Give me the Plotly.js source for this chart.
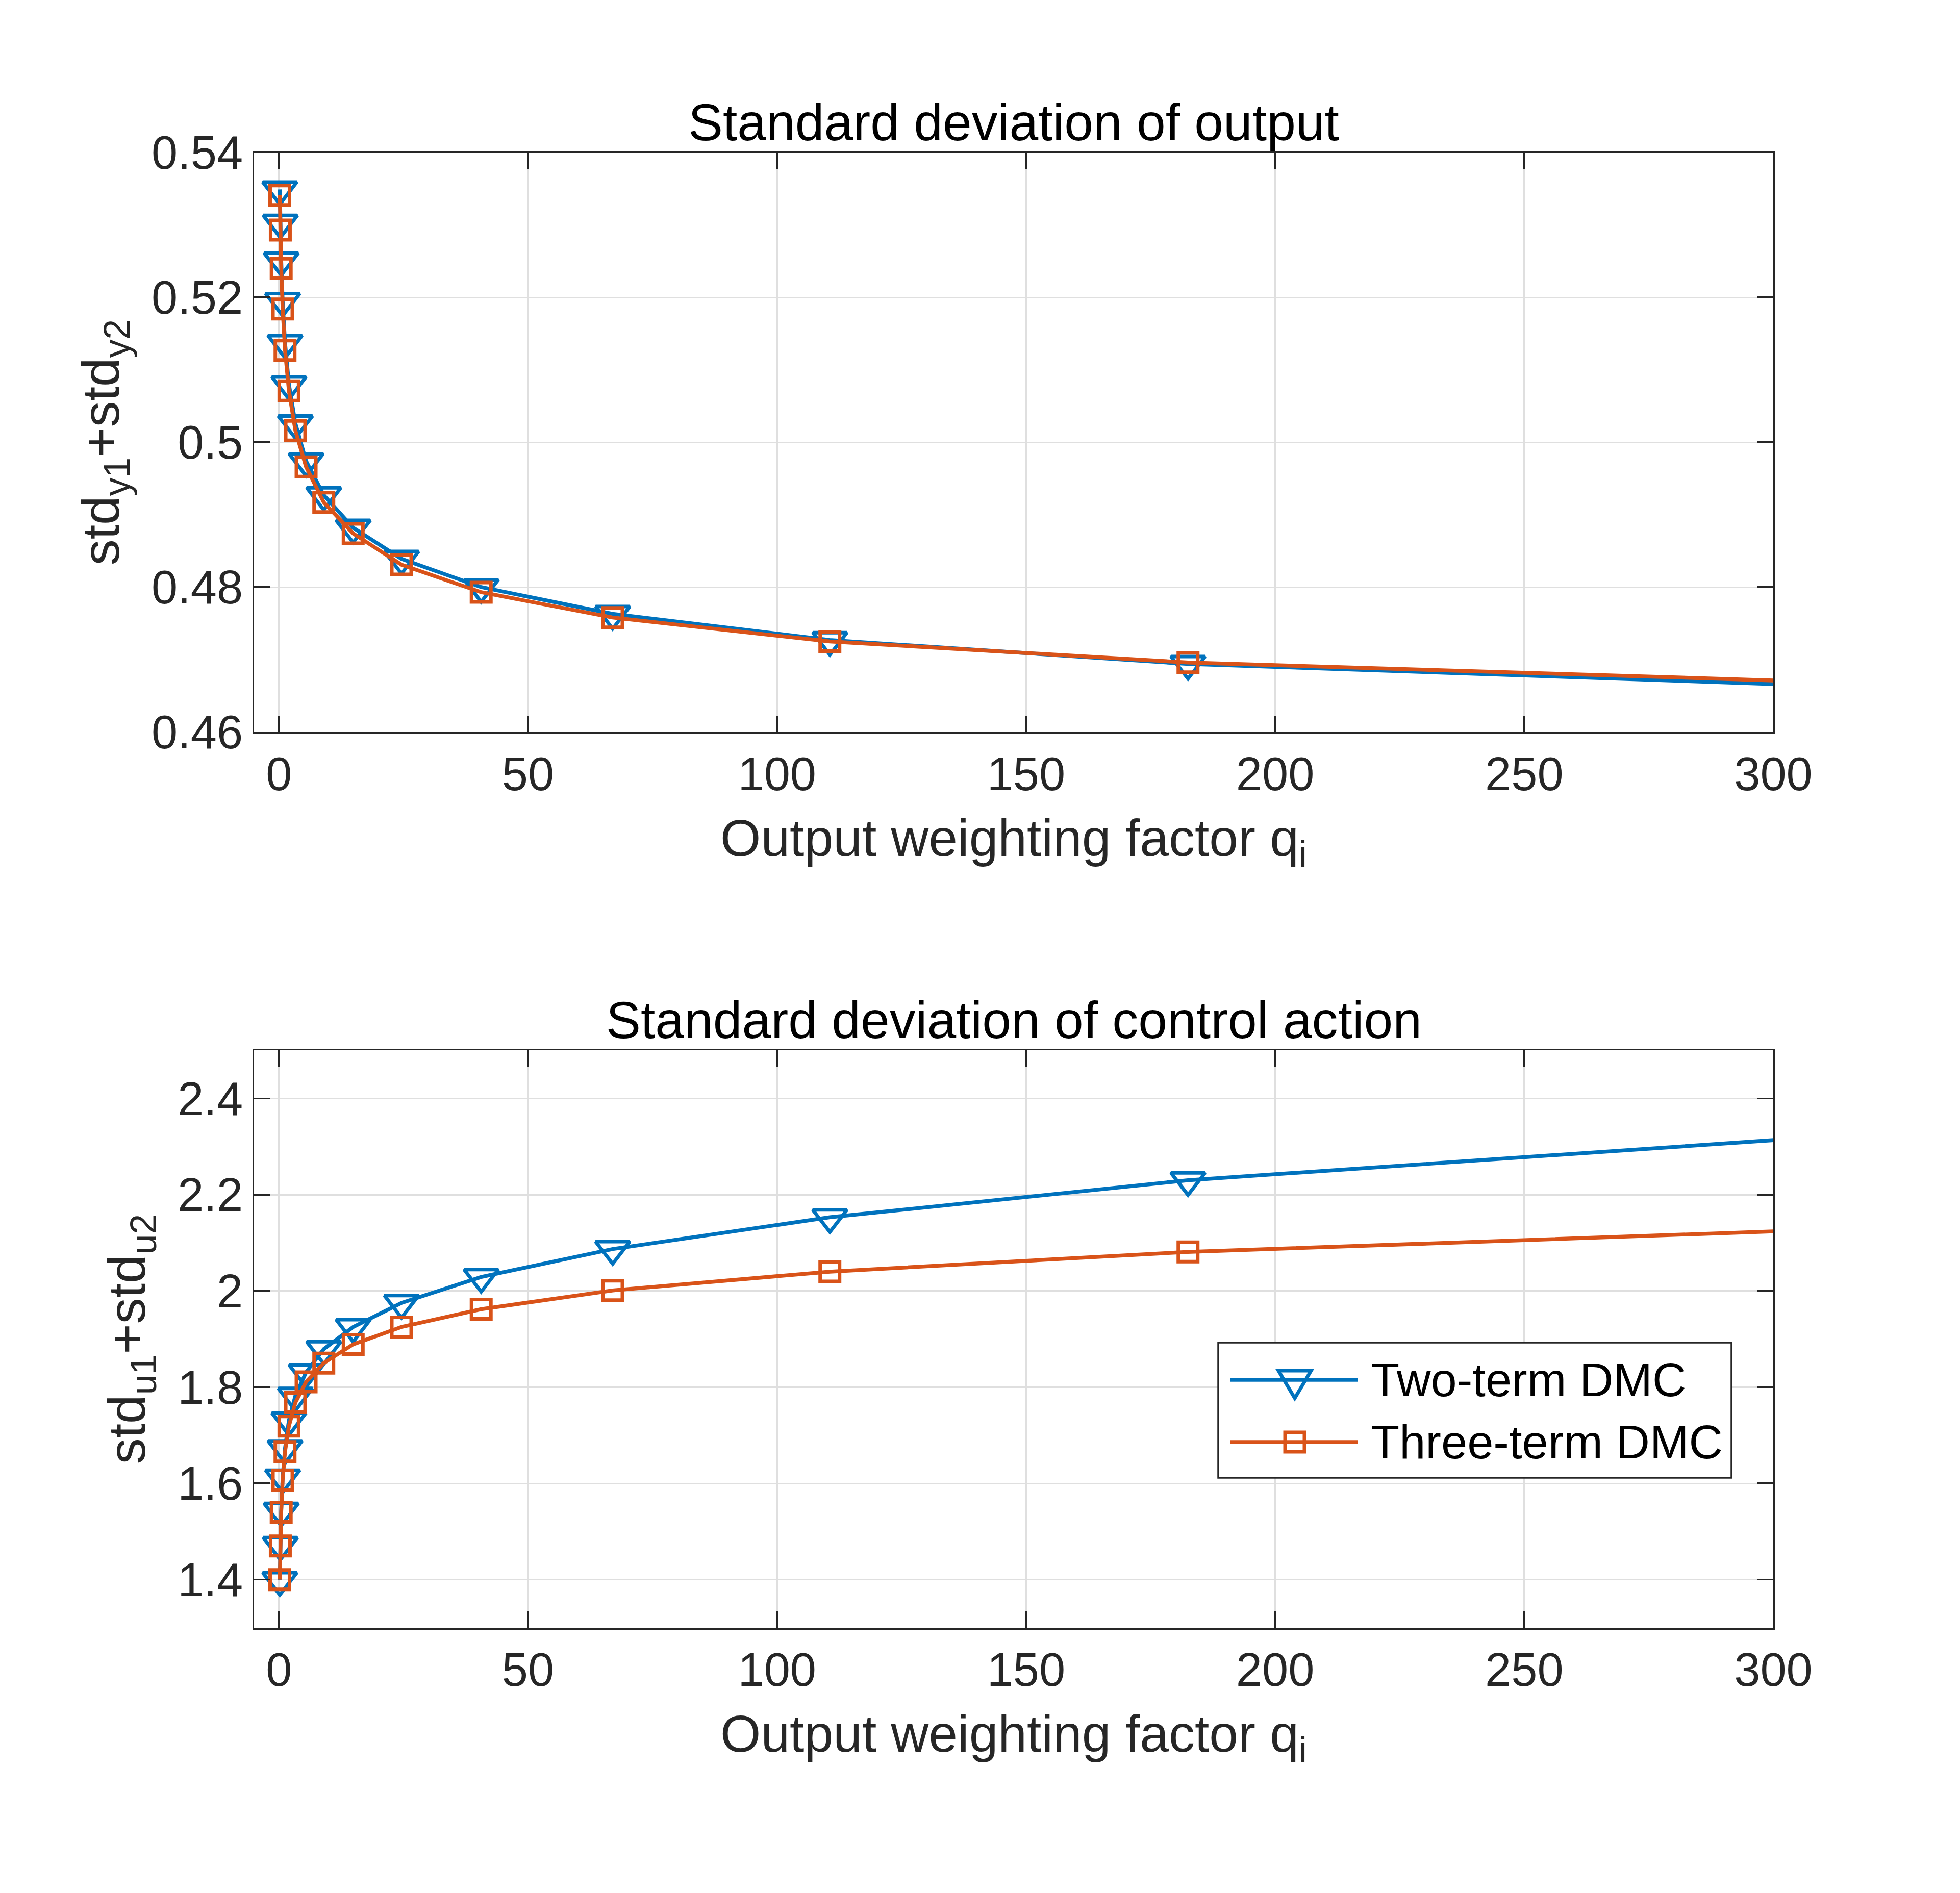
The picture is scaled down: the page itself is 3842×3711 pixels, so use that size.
<!DOCTYPE html>
<html>
<head>
<meta charset="utf-8">
<script src="https://cdn.plot.ly/plotly-3.0.1.min.js"></script>
<style>
html, body { margin: 0; padding: 0; background: #fff; }
#chart { width: 3842px; height: 3711px; }
</style>
</head>
<body>
<div id="chart"></div>
<script>
// output weighting factor q_i, shared by both subplots
var q = [0.17, 0.27, 0.45, 0.74, 1.22, 2.0, 3.3, 5.45, 9.0, 14.9, 24.6, 40.6, 67.0, 110.6, 182.5, 301];

// std_y1 + std_y2
var twoTermStdY = [0.5349, 0.5303, 0.5251, 0.5195, 0.5137, 0.5080, 0.5026, 0.4974, 0.4927, 0.4882, 0.4839, 0.4800, 0.4763, 0.4727, 0.4694, 0.4666];
var threeTermStdY = [0.5341, 0.5293, 0.5240, 0.5184, 0.5127, 0.5071, 0.5016, 0.4966, 0.4917, 0.4874, 0.4831, 0.4793, 0.4758, 0.4725, 0.4696, 0.4671];

// std_u1 + std_u2
var twoTermStdU = [1.399, 1.472, 1.543, 1.612, 1.673, 1.731, 1.782, 1.831, 1.879, 1.925, 1.975, 2.029, 2.087, 2.153, 2.230, 2.314];
var threeTermStdU = [1.400, 1.470, 1.540, 1.607, 1.666, 1.719, 1.768, 1.811, 1.850, 1.889, 1.925, 1.962, 2.001, 2.040, 2.081, 2.124];

var seriesNames = ["Two-term DMC", "Three-term DMC"];
var titles = ["Standard deviation of output", "Standard deviation of control action"];
var xTitle = "Output weighting factor q<sub>i</sub>";
var yTitles = ["std<sub>y1</sub>+std<sub>y2</sub>", "std<sub>u1</sub>+std<sub>u2</sub>"];

var xTicks = [0, 50, 100, 150, 200, 250, 300];
var xTickLabels = ["0", "50", "100", "150", "200", "250", "300"];
var yTopTicks = [0.46, 0.48, 0.5, 0.52, 0.54];
var yTopTickLabels = ["0.46", "0.48", "0.5", "0.52", "0.54"];
var yBotTicks = [1.4, 1.6, 1.8, 2, 2.2, 2.4];
var yBotTickLabels = ["1.4", "1.6", "1.8", "2", "2.2", "2.4"];

var xRange = [-5, 300];
var yTopRange = [0.46, 0.54];
var yBotRange = [1.3, 2.5];

var BLUE = "#0072BD";
var ORANGE = "#D95319";
var AXIS = "#262626";
var FONT = "Liberation Sans, Arial, Helvetica, sans-serif";

// page size and margins in px
var W = 3842, H = 3711;
var M = {l: 498, r: 366, t: 299, b: 520};
function px(x) { return (x - M.l) / (W - M.l - M.r); }
function py(y) { return (H - M.b - y) / (H - M.t - M.b); }

// the last point lies just past x = 300, its marker is clipped in the original
var markerOpacity = q.map(function(v){ return v > xRange[1] ? 0 : 1; });

function series(x, y, name, color, symbol, size, xa, ya){
	return {
		x: x,
		y: y,
		name: name,
		type: "scatter",
		mode: "lines+markers",
		xaxis: xa,
		yaxis: ya,
		showlegend: false,
		line: {color: color, width: 7.5},
		marker: {
			symbol: symbol,
			size: size,
			color: color,
			opacity: markerOpacity,
			line: {color: color, width: 7}
		}
	};
}

var data = [
	series(q, twoTermStdY, seriesNames[0], BLUE, "triangle-down-open", 58, "x", "y"),
	series(q, threeTermStdY, seriesNames[1], ORANGE, "square-open", 38, "x", "y"),
	series(q, twoTermStdU, seriesNames[0], BLUE, "triangle-down-open", 58, "x2", "y2"),
	series(q, threeTermStdU, seriesNames[1], ORANGE, "square-open", 38, "x2", "y2")
];

function xAxis(anchor){
	return {
		anchor: anchor,
		domain: [0, 1],
		range: xRange,
		tickvals: xTicks,
		ticktext: xTickLabels,
		ticks: "inside",
		ticklen: 32,
		tickwidth: 3.5,
		tickcolor: AXIS,
		showline: true,
		linecolor: AXIS,
		linewidth: 3.5,
		mirror: "ticks",
		showgrid: true,
		gridcolor: "#dfdfdf",
		gridwidth: 3,
		zeroline: false,
		tickfont: {family: FONT, size: 92, color: AXIS},
		title: {text: xTitle, font: {family: FONT, size: 102, color: AXIS}, standoff: 40}
	};
}

function yAxis(anchor, domain, range, vals, labels, title){
	return {
		anchor: anchor,
		domain: domain,
		range: range,
		tickvals: vals,
		ticktext: labels,
		ticks: "inside",
		ticklen: 32,
		tickwidth: 3.5,
		tickcolor: AXIS,
		showline: true,
		linecolor: AXIS,
		linewidth: 3.5,
		mirror: "ticks",
		showgrid: true,
		gridcolor: "#dfdfdf",
		gridwidth: 3,
		zeroline: false,
		tickfont: {family: FONT, size: 92, color: AXIS},
		title: {text: title, font: {family: FONT, size: 102, color: AXIS}, standoff: 30}
	};
}

// legend box drawn by hand, plotly caps legend marker sizes
var legX0 = 2388, legX1 = 3394, legY0 = 2632, legY1 = 2897;
var rowY = [2705, 2827];
var sampleX0 = 2412, sampleX1 = 2661, sampleXc = 2538;
var textX = 2685;

var shapes = [
	{type: "rect", xref: "paper", yref: "paper", x0: px(legX0), x1: px(legX1), y0: py(legY1), y1: py(legY0),
		fillcolor: "#ffffff", line: {color: AXIS, width: 3.5}, layer: "above"},
	{type: "line", xref: "paper", yref: "paper", x0: px(sampleX0), x1: px(sampleX1), y0: py(rowY[0]), y1: py(rowY[0]),
		line: {color: BLUE, width: 7.5}, layer: "above"},
	{type: "line", xref: "paper", yref: "paper", x0: px(sampleX0), x1: px(sampleX1), y0: py(rowY[1]), y1: py(rowY[1]),
		line: {color: ORANGE, width: 7.5}, layer: "above"},
	{type: "path", xref: "paper", yref: "paper", layer: "above", line: {color: BLUE, width: 7},
		path: "M" + px(sampleXc - 32) + "," + py(rowY[0] - 18) + " L" + px(sampleXc + 32) + "," + py(rowY[0] - 18) +
			" L" + px(sampleXc) + "," + py(rowY[0] + 36) + " Z"},
	{type: "path", xref: "paper", yref: "paper", layer: "above", line: {color: ORANGE, width: 7},
		path: "M" + px(sampleXc - 19) + "," + py(rowY[1] - 19) + " L" + px(sampleXc + 19) + "," + py(rowY[1] - 19) +
			" L" + px(sampleXc + 19) + "," + py(rowY[1] + 19) + " L" + px(sampleXc - 19) + "," + py(rowY[1] + 19) + " Z"}
];

var annotations = [
	{text: titles[0], xref: "paper", yref: "paper", x: 0.5, y: py(299), xanchor: "center", yanchor: "bottom",
		showarrow: false, font: {family: FONT, size: 102, color: "#000000"}},
	{text: titles[1], xref: "paper", yref: "paper", x: 0.5, y: py(2059), xanchor: "center", yanchor: "bottom",
		showarrow: false, font: {family: FONT, size: 102, color: "#000000"}},
	{text: seriesNames[0], xref: "paper", yref: "paper", x: px(textX), y: py(rowY[0]), xanchor: "left", yanchor: "middle",
		showarrow: false, font: {family: FONT, size: 92, color: "#000000"}},
	{text: seriesNames[1], xref: "paper", yref: "paper", x: px(textX), y: py(rowY[1]), xanchor: "left", yanchor: "middle",
		showarrow: false, font: {family: FONT, size: 92, color: "#000000"}}
];

var layout = {
	width: W,
	height: H,
	margin: M,
	paper_bgcolor: "#ffffff",
	plot_bgcolor: "#ffffff",
	showlegend: false,
	xaxis: xAxis("y"),
	yaxis: yAxis("x", [py(1435), py(299)], yTopRange, yTopTicks, yTopTickLabels, yTitles[0]),
	xaxis2: xAxis("y2"),
	yaxis2: yAxis("x2", [py(3191), py(2059)], yBotRange, yBotTicks, yBotTickLabels, yTitles[1]),
	shapes: shapes,
	annotations: annotations
};

Plotly.newPlot("chart", data, layout, {staticPlot: true});
</script>
</body>
</html>
